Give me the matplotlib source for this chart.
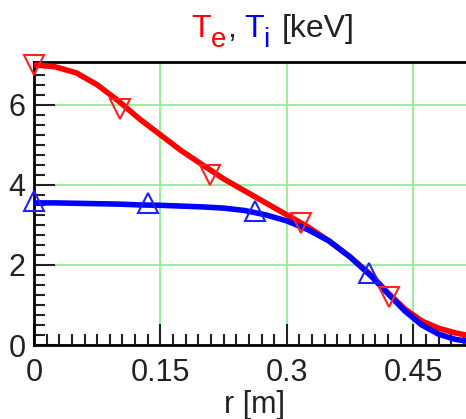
import numpy as np
import matplotlib
matplotlib.use("Agg")
import matplotlib.pyplot as plt
from matplotlib.ticker import MultipleLocator

# Curves
r_curve = [0.0, 0.025, 0.05, 0.075, 0.1, 0.125, 0.15, 0.175, 0.2, 0.225, 0.25, 0.275, 0.3,
           0.325, 0.35, 0.375, 0.4, 0.42, 0.44, 0.46, 0.48, 0.5, 0.52]
te_curve = [7.0, 6.95, 6.8, 6.5, 6.1, 5.65, 5.25, 4.85, 4.5, 4.15, 3.85, 3.55, 3.25,
            2.95, 2.6, 2.2, 1.75, 1.3, 0.9, 0.6, 0.42, 0.3, 0.22]
ti_curve = [3.55, 3.55, 3.54, 3.53, 3.52, 3.5, 3.49, 3.47, 3.45, 3.42, 3.36, 3.25, 3.1,
            2.88, 2.6, 2.2, 1.72, 1.28, 0.85, 0.5, 0.27, 0.14, 0.08]

# Markers
r_te_pts = [0.0, 0.102, 0.209, 0.317, 0.421]
te_pts = [7.0, 5.9, 4.25, 3.05, 1.2]
r_ti_pts = [0.0, 0.135, 0.262, 0.398]
ti_pts = [3.6, 3.55, 3.35, 1.8]

xticks = [0, 0.15, 0.3, 0.45]
xticklabels = ["0", "0.15", "0.3", "0.45"]
yticks = [0, 2, 4, 6]

plt.rcParams['font.family'] = ['Liberation Sans', 'DejaVu Sans']

fig = plt.figure(figsize=(4.66, 4.19), dpi=100)
W, H = 466, 419
ax = fig.add_axes([34 / W, 1 - 345 / H, (506 - 34) / W, (345 - 62) / H])

ax.plot(r_curve, te_curve, color='#ff0000', lw=4, solid_capstyle='butt', zorder=3)
ax.plot(r_curve, ti_curve, color='#0000ff', lw=4, solid_capstyle='butt', zorder=4)
ax.plot(r_te_pts, te_pts, linestyle='none', marker='v', ms=15, mfc='none',
        mec='#ff2020', mew=1.5, zorder=5, clip_on=False)
ax.plot(r_ti_pts, ti_pts, linestyle='none', marker='^', ms=15, mfc='none',
        mec='#2020ff', mew=1.5, zorder=5, clip_on=False)

ax.set_xlim(0, 0.56)
ax.set_ylim(0, 7.07)
ax.set_xticks(xticks)
ax.set_xticklabels(xticklabels)
ax.set_yticks(yticks)
ax.xaxis.set_minor_locator(MultipleLocator(0.015))
ax.yaxis.set_minor_locator(MultipleLocator(0.25))
ax.grid(True, which='major', color='#90ee90', lw=1.3, zorder=0)
ax.tick_params(which='both', direction='in', top=False, right=False, labelsize=22,
               colors='#222222', width=1.5)
ax.tick_params(which='major', length=15, pad=6)
ax.tick_params(which='minor', length=8)
ax.tick_params(axis='x', pad=9)
for s in ax.spines.values():
    s.set_linewidth(2)
    s.set_color('black')
ax.spines['right'].set_visible(False)

# Title with colored parts (subscripts drawn as lowered text)
fs = 23
base = 1 - 37 / H
sub = 1 - 47 / H
fig.text(191 / W, base, "T", color='#ff0000', fontsize=fs, ha='left', va='baseline')
fig.text(211 / W, sub, "e", color='#ff0000', fontsize=fs - 3, ha='left', va='baseline')
fig.text(227 / W, base, ",", color='#222222', fontsize=fs, ha='left', va='baseline')
fig.text(244 / W, base, "T", color='#0000ff', fontsize=fs, ha='left', va='baseline')
fig.text(263 / W, sub, "i", color='#0000ff', fontsize=fs - 3, ha='left', va='baseline')
fig.text(282 / W, base, "[keV]", color='#222222', fontsize=fs, ha='left', va='baseline')

fig.text(254 / W, 1 - 405 / H, "r [m]", color='#222222', fontsize=22, ha='center', va='center')

fig.savefig("out.png", dpi=100)
